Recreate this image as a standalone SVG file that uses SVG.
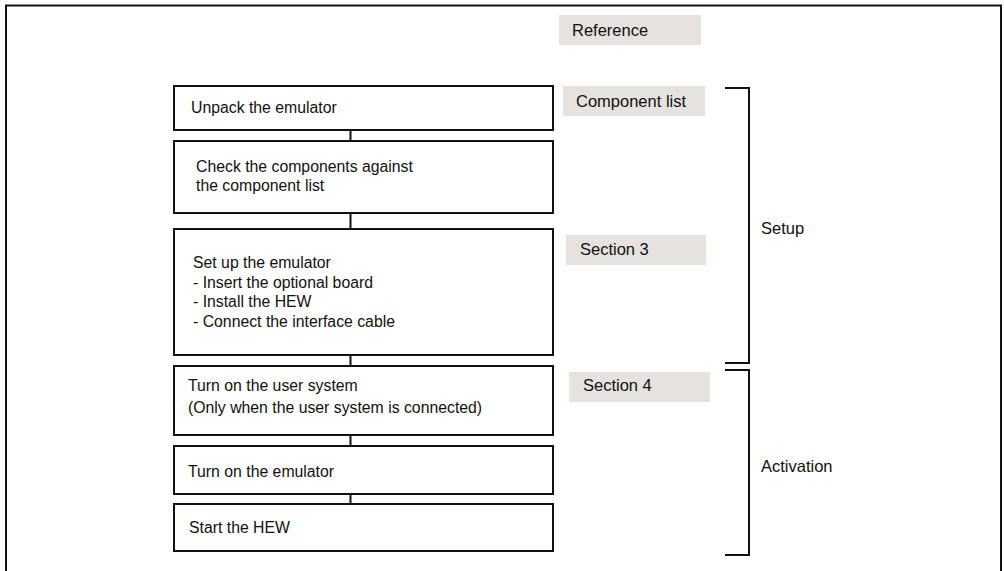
<svg xmlns="http://www.w3.org/2000/svg" width="1004" height="571" viewBox="0 0 1004 571">
<style>
text{font-family:"Liberation Sans",Arial,sans-serif;font-size:15.8px;fill:#111}
.lbl{font-size:16.5px}
.box{fill:#fff;stroke:#111;stroke-width:2}
.ref{fill:#e5e2df}
.ln{stroke:#111;stroke-width:2;fill:none}
</style>
<rect x="0" y="0" width="1004" height="571" fill="#fff"/>
<g id="frame">
<path class="ln" d="M6,571 V5.5 H1001 V571" stroke-width="1.5"/>
</g>
<g id="connectors">
<line class="ln" x1="350.5" y1="130" x2="350.5" y2="141"/>
<line class="ln" x1="350.5" y1="213" x2="350.5" y2="229"/>
<line class="ln" x1="350.5" y1="355" x2="350.5" y2="366"/>
<line class="ln" x1="350.5" y1="435" x2="350.5" y2="446"/>
<line class="ln" x1="350.5" y1="494" x2="350.5" y2="504"/>
</g>
<g id="n1"><rect class="box" x="174" y="86" width="379" height="44"/><text x="191" y="113">Unpack the emulator</text></g>
<g id="n2"><rect class="box" x="174" y="141" width="379" height="72"/><text x="196" y="172">Check the components against</text><text x="196" y="191">the component list</text></g>
<g id="n3"><rect class="box" x="174" y="229" width="379" height="126"/><text x="193" y="268">Set up the emulator</text><text x="193" y="288">- Insert the optional board</text><text x="193" y="307">- Install the HEW</text><text x="193" y="327">- Connect the interface cable</text></g>
<g id="n4"><rect class="box" x="174" y="366" width="379" height="69"/><text x="188" y="391">Turn on the user system</text><text x="188" y="413">(Only when the user system is connected)</text></g>
<g id="n5"><rect class="box" x="174" y="446" width="379" height="48"/><text x="188" y="477">Turn on the emulator</text></g>
<g id="n6"><rect class="box" x="174" y="504" width="379" height="47"/><text x="189" y="533">Start the HEW</text></g>
<g id="ref-reference"><rect class="ref" x="559" y="15" width="142" height="30"/><text class="lbl" x="572" y="36">Reference</text></g>
<g id="ref-component"><rect class="ref" x="563" y="86" width="142" height="30"/><text class="lbl" x="576" y="107">Component list</text></g>
<g id="ref-section3"><rect class="ref" x="566" y="235" width="140" height="30"/><text class="lbl" x="580" y="255">Section 3</text></g>
<g id="ref-section4"><rect class="ref" x="569" y="372" width="141" height="30"/><text class="lbl" x="583" y="391">Section 4</text></g>
<g id="setup"><path class="ln" d="M725,88 H749 V363 H725"/><text class="lbl" x="761" y="234">Setup</text></g>
<g id="activation"><path class="ln" d="M725,370 H749 V555 H725"/><text class="lbl" x="761" y="472">Activation</text></g>
</svg>
